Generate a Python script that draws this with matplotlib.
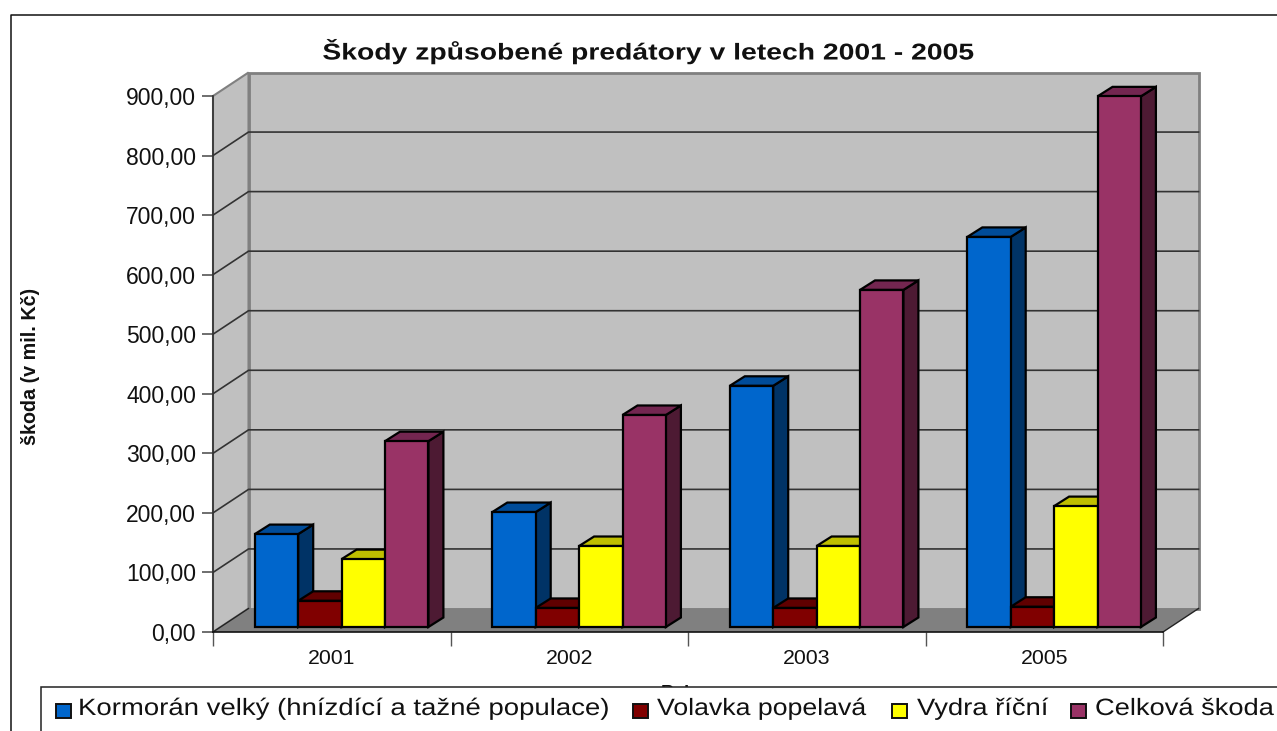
# -*- coding: utf-8 -*-
import matplotlib
matplotlib.use("Agg")
import matplotlib.pyplot as plt
from matplotlib.lines import Line2D
from matplotlib.patches import Polygon, Rectangle
from matplotlib.patheffects import AbstractPathEffect
from matplotlib.transforms import Affine2D

plt.rcParams['font.family'] = ['Liberation Sans', 'DejaVu Sans']

W, H = 1277, 731

years = ['2001', '2002', '2003', '2005']
kormoran = [156, 193, 405, 655]
volavka = [44, 32, 32, 34]
vydra = [114, 136, 136, 203]
celkem = [312, 356, 566, 891]
y_ticks = [0, 100, 200, 300, 400, 500, 600, 700, 800, 900]

series = [kormoran, volavka, vydra, celkem]
names = ['Kormorán velký (hnízdící a tažné populace)', 'Volavka popelavá', 'Vydra říční', 'Celková škoda']
front_cols = ['#0066CC', '#800000', '#FFFF00', '#993366']
top_cols = ['#004C99', '#600000', '#BFBF00', '#732650']
side_cols = ['#003366', '#400000', '#808000', '#4D1A33']


class Stretch(AbstractPathEffect):
    # the original text is wider than the font, stretch it around x0 (pixels)
    def __init__(self, x0, sx):
        super().__init__()
        self.x0 = x0
        self.sx = sx

    def draw_path(self, renderer, gc, tpath, affine, rgbFace=None):
        stretch = Affine2D().translate(-self.x0, 0).scale(self.sx, 1).translate(self.x0, 0)
        renderer.draw_path(gc, tpath, affine + stretch, rgbFace)


fig = plt.figure(figsize=(W / 100, H / 100), dpi=100)

# front plane of the 3d box is the real axes
left, right, top, bottom = 213, 1163, 96, 632
ax = fig.add_axes([left / W, 1 - bottom / H, (right - left) / W, (bottom - top) / H])
ax.set_xlim(0, 4)
ax.set_ylim(0, 900)
ax.patch.set_visible(False)

# one pixel in data units
px = 4 / (right - left)
py = 900 / (bottom - top)

## ~~~~~~~~~~ walls and floor ~~~~~~~~~~~~
dx, dy = 35.5 * px, 23.5 * py
ax.add_patch(Polygon([(dx, dy), (4 + dx, dy), (4 + dx, 900 + dy), (dx, 900 + dy)], fc='#C0C0C0',
                     ec='#808080', lw=2, clip_on=False, zorder=1))
ax.add_patch(Polygon([(0, 0), (dx, dy), (dx, 900 + dy), (0, 900)], fc='#C0C0C0',
                     ec='#808080', lw=1.5, clip_on=False, zorder=1))
ax.add_patch(Polygon([(0, 0), (4, 0), (4 + dx, dy), (dx, dy)], fc='#808080',
                     ec='none', clip_on=False, zorder=2))
for t in y_ticks[1:-1]:
    ax.plot([0, dx, 4 + dx], [t, t + dy, t + dy], color='#333333', lw=1.2, clip_on=False, zorder=1.5)
ax.plot([0, dx], [0, dy], color='#222222', lw=1, clip_on=False, zorder=2.5)
ax.plot([4, 4 + dx], [0, dy], color='#222222', lw=1, clip_on=False, zorder=2.5)

## ~~~~~~~~~~ bars ~~~~~~~~~~~~
bar_w = 43.4 * px
start = 41.8 * px
base = 5 * py
ddx, ddy = 15 * px, 9.5 * py
z = 3
for i in range(len(years)):
    for s in range(len(series)):
        x0 = i + start + s * bar_w
        x1 = x0 + bar_w
        y0 = base
        y1 = base + series[s][i]
        faces = [
            ([(x1, y0), (x1 + ddx, y0 + ddy), (x1 + ddx, y1 + ddy), (x1, y1)], side_cols[s]),
            ([(x0, y1), (x1, y1), (x1 + ddx, y1 + ddy), (x0 + ddx, y1 + ddy)], top_cols[s]),
            ([(x0, y0), (x1, y0), (x1, y1), (x0, y1)], front_cols[s]),
        ]
        for pts, col in faces:
            ax.add_patch(Polygon(pts, fc=col, ec='black', lw=1.6, joinstyle='miter', clip_on=False, zorder=z))
            z += 0.01

## ~~~~~~~~~~ axes ~~~~~~~~~~~~
for sp in ['top', 'right']:
    ax.spines[sp].set_visible(False)
ax.spines['left'].set_color('#333333')
ax.spines['bottom'].set_color('#111111')
ax.spines['left'].set_linewidth(1.2)
ax.spines['bottom'].set_linewidth(1.2)
ax.spines['left'].set_zorder(2.6)
ax.spines['bottom'].set_zorder(2.6)
ax.set_yticks(y_ticks)
ax.set_yticklabels([('%d,00' % t) for t in y_ticks], fontsize=16.5, color='#111111')
ax.set_xticks(range(5))
ax.set_xticklabels([])
ax.set_xticks([i + 0.5 for i in range(4)], minor=True)
ax.set_xticklabels(years, minor=True, fontsize=15.3, color='#111111')
ax.tick_params(axis='y', length=8, width=1.2, color='#555555', pad=4.2)
ax.tick_params(axis='x', which='major', length=10, width=1, color='#555555')
ax.tick_params(axis='x', which='minor', length=0, pad=12.5)


def figx(x):
    return x / W


def figy(y):
    return 1 - y / H


## ~~~~~~~~~~ titles ~~~~~~~~~~~~
title = fig.text(figx(647.5), figy(51), 'Škody způsobené predátory v letech 2001 - 2005', fontsize=16.5,
                 fontweight='bold', ha='center', va='center', color='#111111')
title.set_path_effects([Stretch(647.5, 1.236)])
fig.text(figx(31), figy(366), 'škoda (v mil. Kč)', fontsize=14.2, fontweight='bold', rotation=90,
         ha='center', va='center', color='#111111')
# axis title is almost completely hidden behind the legend box
fig.text(figx(683), figy(693), 'Roky', fontsize=13, fontweight='bold', ha='center', va='center',
         color='#111111', zorder=1)

## ~~~~~~~~~~ outer frame ~~~~~~~~~~~~
fig.add_artist(Line2D([figx(11), figx(11), figx(W)], [figy(H), figy(14.5), figy(14.5)],
                      color='#111111', lw=1.1))

## ~~~~~~~~~~ legend box ~~~~~~~~~~~~
fig.add_artist(Rectangle((figx(41), figy(H + 10)), (W + 10 - 41) / W, (H + 10 - 687) / H, fc='white',
                         ec='#222222', lw=1.1, zorder=5, transform=fig.transFigure))
swatch_x = [56, 633, 892, 1071]
text_x = [78, 657, 917, 1095]
text_sx = [1.167, 1.13, 1.16, 1.155]
for sx, tx, stretch, name, col in zip(swatch_x, text_x, text_sx, names, front_cols):
    fig.add_artist(Rectangle((figx(sx), figy(718)), 15 / W, 14 / H, fc=col, ec='#111111', lw=1.4,
                             zorder=6, transform=fig.transFigure))
    txt = fig.text(figx(tx), figy(709), name, fontsize=17, ha='left', va='center', color='#111111', zorder=6)
    txt.set_path_effects([Stretch(tx, stretch)])

fig.savefig('out.png', dpi=100)
